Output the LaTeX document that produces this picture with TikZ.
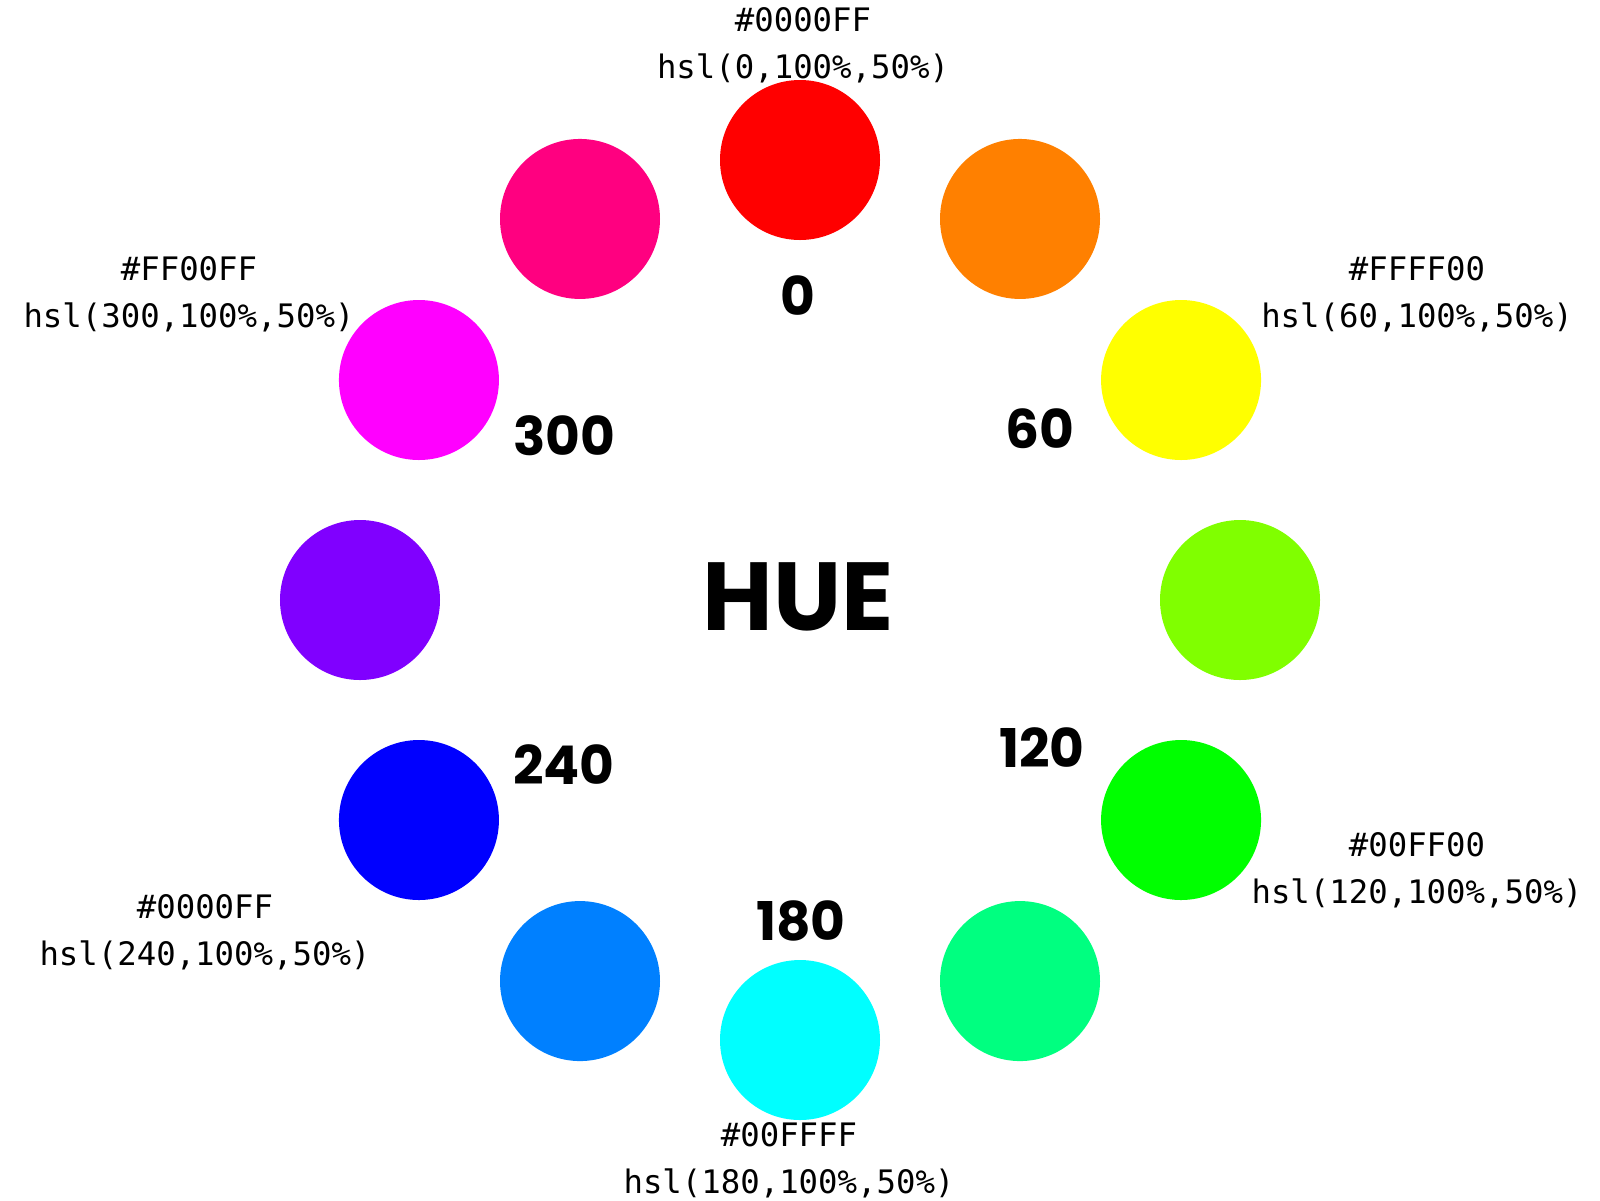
\documentclass[tikz,border=0pt]{standalone}
\usepackage{fontspec}
\setmonofont{DejaVu Sans Mono}
\newfontfamily\geofont{Poppins}
\tikzset{
  swatch/.style={circle,minimum size=1.6cm,inner sep=0pt},
  deg/.style={font=\geofont\bfseries\fontsize{15.2}{15.2}\selectfont},
  code/.style={align=center,font=\ttfamily\fontsize{9.2}{13.4}\selectfont}}
\begin{document}
\begin{tikzpicture}
\useasboundingbox (-8,-6) rectangle (8,6);
\foreach \h/\c in {0/FF0000,30/FF8000,60/FFFF00,90/80FF00,120/00FF00,150/00FF80,
  180/00FFFF,210/0080FF,240/0000FF,270/8000FF,300/FF00FF,330/FF0080}{
\definecolor{swatchcol}{HTML}{\c}
\node[swatch,fill=swatchcol] (h\h) at ({90-\h}:4.4) {};}
\node[font=\geofont\bfseries\fontsize{27.5}{27.5}\selectfont] (hue) at (-0.02,0.03) {HUE};
\foreach \h/\x/\y in {0/-0.02/3.04,60/2.40/1.71,120/2.42/-1.48,180/0.01/-3.21,
  240/-2.36/-1.65,300/-2.36/1.64}
  \node[deg] (n\h) at (\x,\y) {\h};
\node[code] (c0) at (0.03,5.55) {\#0000FF\\hsl(0,100\%,50\%)};
\node[code] (c60) at (6.17,3.06) {\#FFFF00\\hsl(60,100\%,50\%)};
\node[code] (c120) at (6.17,-2.70) {\#00FF00\\hsl(120,100\%,50\%)};
\node[code] (c180) at (-0.11,-5.60) {\#00FFFF\\hsl(180,100\%,50\%)};
\node[code] (c240) at (-5.95,-3.32) {\#0000FF\\hsl(240,100\%,50\%)};
\node[code] (c300) at (-6.11,3.06) {\#FF00FF\\hsl(300,100\%,50\%)};
\end{tikzpicture}
\end{document}
